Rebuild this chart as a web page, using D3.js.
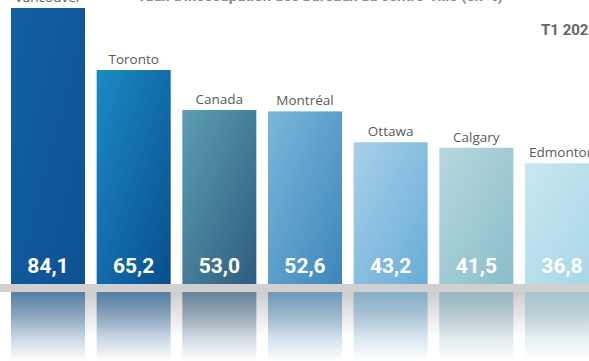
<!DOCTYPE html>
<html>
<head>
<meta charset="utf-8">
<script src="https://cdn.jsdelivr.net/npm/d3@7"></script>
<style>
    body { margin: 0; background: #fff; }
    .cat-label { font-family: "Open Sans", sans-serif; font-size: 13.5px; fill: #5a5a5a; }
    .val-label { font-family: Roboto, sans-serif; font-weight: 700; font-size: 21px; fill: #fff; }
    .title { font-family: Roboto, sans-serif; font-weight: 700; font-size: 15px; fill: #666; }
</style>
</head>
<body>
<div id="chart"></div>
<script>
// data
var cities = ["Vancouver", "Toronto", "Canada", "Montréal", "Ottawa", "Calgary", "Edmonton"]
var values = [84.1, 65.2, 53.0, 52.6, 43.2, 41.5, 36.8]
var valueLabels = ["84,1", "65,2", "53,0", "52,6", "43,2", "41,5", "36,8"]
var colorsLight = ["#135fa3", "#1b8ac2", "#5d9eb1", "#7bb7da", "#a8d0e8", "#b6d8de", "#c9e7f0"]
var colorsDark = ["#0d5194", "#094d90", "#2d5c80", "#3d86bb", "#68acd7", "#8abdc9", "#a6d6e7"]

var defaultWidth = 589
var defaultHeight = 361
var baseline = 284
var floorH = 8

var svg = d3.select("#chart")
    .append("svg")
        .attr("width", defaultWidth)
        .attr("height", defaultHeight)
        .style("display", "block")

var defs = svg.append("defs")

var x = d3.scaleBand()
    .domain(cities)
    .range([11, 599])
    .paddingInner(0.136)
    .paddingOuter(0)

var y = d3.scaleLinear()
    .domain([0, 84.1])
    .range([baseline, 8])

// gradients for bars (light top-left to dark bottom-right)
cities.forEach(function(c, i){
    var g = defs.append("linearGradient")
        .attr("id", "bar-grad-" + i)
        .attr("x1", "0%").attr("y1", "0%")
        .attr("x2", "100%").attr("y2", "100%")
    g.append("stop").attr("offset", "0%").attr("stop-color", colorsLight[i])
    g.append("stop").attr("offset", "100%").attr("stop-color", colorsDark[i])
})

// fade for reflections and floor
var fade = defs.append("linearGradient")
    .attr("id", "fade")
    .attr("x1", 0).attr("y1", 0).attr("x2", 0).attr("y2", 1)
fade.append("stop").attr("offset", "0%").attr("stop-color", "#fff").attr("stop-opacity", 0.8)
fade.append("stop").attr("offset", "100%").attr("stop-color", "#fff").attr("stop-opacity", 0)

defs.append("mask")
    .attr("id", "fade-mask")
    .attr("maskContentUnits", "userSpaceOnUse")
    .append("rect")
        .attr("x", 0)
        .attr("y", baseline + floorH)
        .attr("width", defaultWidth)
        .attr("height", defaultHeight - baseline - floorH)
        .attr("fill", "url(#fade)")

var floorGrad = defs.append("linearGradient")
    .attr("id", "floor-grad")
    .attr("x1", 0).attr("y1", 0).attr("x2", 0).attr("y2", 1)
floorGrad.append("stop").attr("offset", "0%").attr("stop-color", "#cdcdcd")
floorGrad.append("stop").attr("offset", "65%").attr("stop-color", "#fff")

// title (cut off at top in the original)
svg.append("text")
    .attr("class", "title")
    .attr("x", 137)
    .attr("y", 1)
    .style("fill", "#888")
    .text("Taux d'inoccupation des bureaux au centre-ville (en %)")

svg.append("text")
    .attr("class", "title")
    .attr("x", 541)
    .attr("y", 35)
    .text("T1 2023")

// floor
svg.append("rect")
    .attr("x", 0)
    .attr("y", baseline)
    .attr("width", defaultWidth)
    .attr("height", floorH)
    .attr("fill", "#d0d0d0")

svg.append("rect")
    .attr("x", x(cities[0]))
    .attr("y", baseline + floorH)
    .attr("width", defaultWidth - x(cities[0]))
    .attr("height", defaultHeight - baseline - floorH)
    .attr("fill", "url(#floor-grad)")

// reflections
var reflect = svg.append("g").attr("mask", "url(#fade-mask)")
reflect.selectAll("rect")
    .data(values)
    .enter()
    .append("rect")
        .attr("x", (d, i) => x(cities[i]))
        .attr("y", baseline + floorH)
        .attr("width", x.bandwidth())
        .attr("height", (d) => y(0) - y(d))
        .attr("fill", (d, i) => d3.interpolateRgb(colorsDark[i], "#8a9aa6")(0.35))

// bars
var chart = svg.append("g")
chart.selectAll(".bar")
    .data(values)
    .enter()
    .append("rect")
        .attr("class", "bar")
        .attr("x", (d, i) => x(cities[i]))
        .attr("y", (d) => y(d))
        .attr("width", x.bandwidth())
        .attr("height", (d) => y(0) - y(d))
        .attr("fill", (d, i) => "url(#bar-grad-" + i + ")")

chart.selectAll(".cat-label")
    .data(values)
    .enter()
    .append("text")
        .attr("class", "cat-label")
        .attr("x", (d, i) => x(cities[i]) + x.bandwidth()/2)
        .attr("y", (d) => y(d) - 6)
        .attr("text-anchor", "middle")
        .text((d, i) => cities[i])

chart.selectAll(".val-label")
    .data(values)
    .enter()
    .append("text")
        .attr("class", "val-label")
        .attr("x", (d, i) => x(cities[i]) + x.bandwidth()/2)
        .attr("y", baseline - 11)
        .attr("text-anchor", "middle")
        .text((d, i) => valueLabels[i])
</script>
</body>
</html>
